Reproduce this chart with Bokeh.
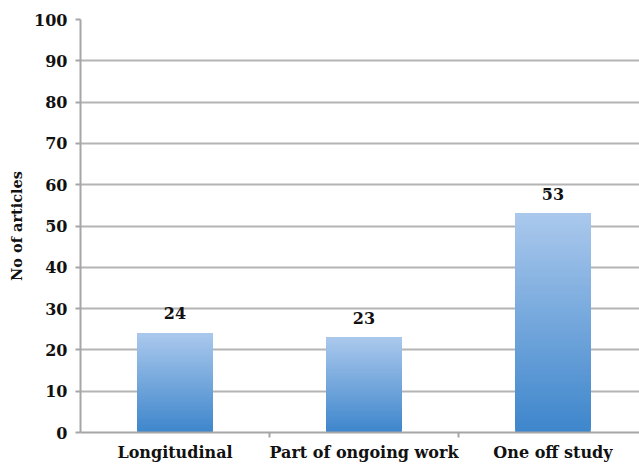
import numpy as np
from bokeh.plotting import figure
from bokeh.models import Range1d, FixedTicker, ColumnDataSource
from bokeh.core.properties import value
from bokeh.embed import file_html
from bokeh.resources import INLINE

categories = ["Longitudinal", "Part of ongoing work", "One off study"]
counts = [24, 23, 53]
y_ticks = [0, 10, 20, 30, 40, 50, 60, 70, 80, 90, 100]

FONT = "DejaVu Serif"
W, H = 639, 464

p = figure(width=W, height=H, output_backend="svg", toolbar_location=None,
           x_range=Range1d(0, 2.958), y_range=Range1d(0, 100))
p.min_border_left = 80
p.min_border_right = 0
p.min_border_top = 19
p.min_border_bottom = 32
p.outline_line_color = None
p.background_fill_color = "white"
p.border_fill_color = "white"

p.xgrid.grid_line_color = None
p.ygrid.ticker = FixedTicker(ticks=y_ticks[1:])
p.ygrid.grid_line_color = "#b4b4b4"
p.ygrid.grid_line_width = 2

# gradient bars: overlapping slices drawn bottom-up
N = 80
top_rgb = np.array([171, 201, 237])
bot_rgb = np.array([62, 134, 204])
lefts, rights, bottoms, tops, colors = [], [], [], [], []
centers = [i + 0.5 for i in range(len(categories))]
bw = 0.4
for c, v in zip(centers, counts):
    edges = np.linspace(0, v, N + 1)
    for k in range(N):
        t = (k + 0.5) / N
        rgb = (bot_rgb * (1 - t) + top_rgb * t).astype(int)
        lefts.append(c - bw / 2)
        rights.append(c + bw / 2)
        bottoms.append(edges[k])
        tops.append(v)
        colors.append("#%02x%02x%02x" % tuple(rgb))
src = ColumnDataSource(dict(left=lefts, right=rights, bottom=bottoms, top=tops, color=colors))
p.quad(left="left", right="right", bottom="bottom", top="top", fill_color="color",
       line_color=None, source=src)

# value labels
lab = ColumnDataSource(dict(x=centers, y=counts, t=[str(v) for v in counts]))
p.text(x="x", y="y", text="t", source=lab, text_align="center", text_baseline="bottom",
       y_offset=-14, text_font_size="16px", text_font_style="bold", text_color="#111111",
       text_font=value(FONT))

# y axis
p.yaxis.ticker = FixedTicker(ticks=y_ticks, minor_ticks=[])
p.yaxis.axis_label = "No of articles"
p.yaxis.axis_label_text_font = FONT
p.yaxis.axis_label_text_font_style = "bold"
p.yaxis.axis_label_text_font_size = "14.5px"
p.yaxis.axis_label_text_color = "#111111"
p.yaxis.axis_label_standoff = 6
p.yaxis.major_label_text_font = FONT
p.yaxis.major_label_text_font_style = "bold"
p.yaxis.major_label_text_font_size = "16px"
p.yaxis.major_label_text_color = "#111111"
p.yaxis.axis_line_color = "#a6a6a6"
p.yaxis.axis_line_width = 2
p.yaxis.major_tick_line_color = "#a6a6a6"
p.yaxis.major_tick_line_width = 2
p.yaxis.major_tick_out = 5
p.yaxis.major_tick_in = 0
p.yaxis.minor_tick_line_color = None
p.yaxis.major_label_standoff = 8

# x axis
p.xaxis.ticker = FixedTicker(ticks=centers, minor_ticks=[1, 2, 3])
p.xaxis.major_label_overrides = {c: n for c, n in zip(centers, categories)}
p.xaxis.major_label_text_font = FONT
p.xaxis.major_label_text_font_style = "bold"
p.xaxis.major_label_text_font_size = "16px"
p.xaxis.major_label_text_color = "#111111"
p.xaxis.axis_line_color = "#a6a6a6"
p.xaxis.axis_line_width = 2
p.xaxis.major_tick_line_color = None
p.xaxis.minor_tick_line_color = "#a6a6a6"
p.xaxis.minor_tick_line_width = 2
p.xaxis.minor_tick_out = 5
p.xaxis.minor_tick_in = 0
p.xaxis.major_label_standoff = 4

open("out.html", "w").write(file_html(p, INLINE))
